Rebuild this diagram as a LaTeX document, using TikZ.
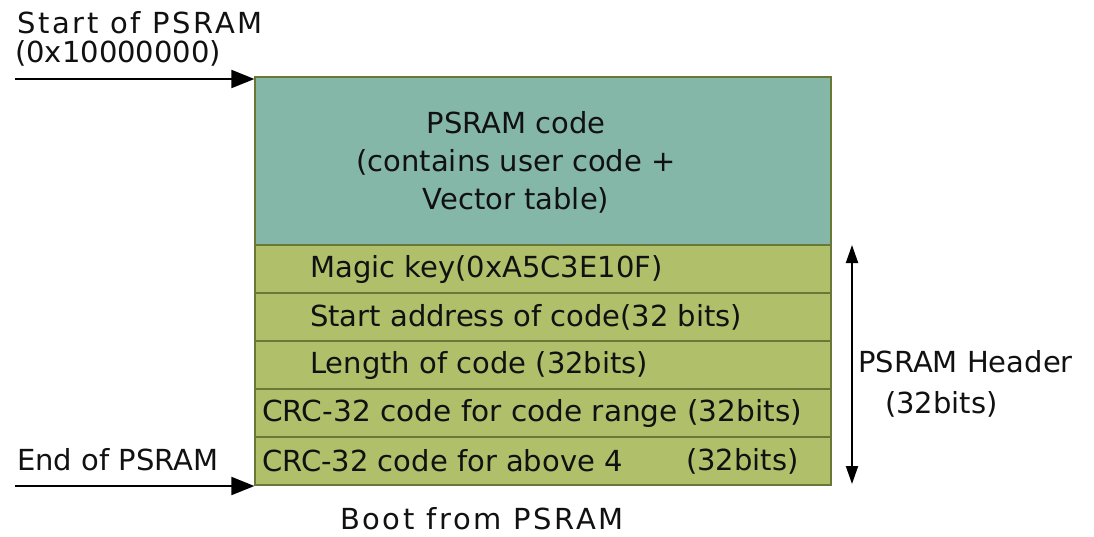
\documentclass[tikz,border=0pt]{standalone}
\usepackage{fontspec}
\setmainfont{DejaVu Sans}
\newfontfamily\spacedfont{DejaVu Sans}[LetterSpace=9]
\usetikzlibrary{arrows.meta}
\definecolor{tealfill}{RGB}{132,183,167}
\definecolor{olivefill}{RGB}{175,191,106}
\definecolor{boxline}{RGB}{105,120,55}
\definecolor{ink}{RGB}{17,17,17}
\begin{document}
\begin{tikzpicture}[x=1pt,y=-1pt,
  font=\fontsize{29}{38}\selectfont, text=ink,
  codebox/.style={draw=boxline, fill=tealfill, line width=1.2pt, minimum width=576pt, minimum height=168pt, inner sep=0pt},
  rowbox/.style={draw=boxline, fill=olivefill, line width=1.2pt, minimum width=576pt, minimum height=48pt, inner sep=0pt},
  txt/.style={inner sep=0pt, anchor=west},
  spaced/.style={font=\spacedfont\fontsize{29}{38}\selectfont},
  conn/.style={draw=black, line width=2pt, -{Triangle[length=23pt,width=18pt]}},
  span/.style={draw=black, line width=2pt, {Triangle[length=18pt,width=12pt]}-{Triangle[length=18pt,width=12pt]}}
]
\useasboundingbox (0,0) rectangle (1094,536);

% memory blocks
\node[codebox] (code) at (543,161) {};
\node[rowbox] (r1) at (543,269) {};
\node[rowbox] (r2) at (543,317) {};
\node[rowbox] (r3) at (543,365) {};
\node[rowbox] (r4) at (543,413) {};
\node[rowbox] (r5) at (543,461) {};

% block texts
\node[inner sep=0pt, align=center] (codetxt) at (516,162) {PSRAM code\\(contains user code +\\Vector table)};
\node[txt] (t1) at (310,269) {Magic key(0xA5C3E10F)};
\node[txt] (t2) at (310,317) {Start address of code(32 bits)};
\node[txt] (t3) at (310,365) {Length of code (32bits)};
\node[txt] (t4) at (262,413) {\scalebox{1.02}[1]{CRC-32 code for code range (32bits)}};
\node[txt] (t5) at (262,461) {CRC-32 code for above 4};
\node[txt] (t5b) at (686,461) {(32bits)};

% left labels and arrows
\node[txt, spaced] (startlbl) at (17,23) {Start of PSRAM};
\node[txt] (startaddr) at (15,53) {(0x10000000)};
\node[txt] (endlbl) at (17,460) {End of PSRAM};
\coordinate (sfrom) at (15,79);
\coordinate (efrom) at (15,486);
\draw[conn] (sfrom) -- (sfrom -| code.west);
\draw[conn] (efrom) -- (efrom -| r5.west);

% header span
\coordinate (htop) at (852,245);
\coordinate (hbot) at (852,484);
\draw[span] (htop) -- (hbot);
\node[txt] (hdr) at (858,362) {PSRAM Header};
\node[txt] (hdrbits) at (885,404) {(32bits)};

% caption
\node[inner sep=0pt, spaced] (caption) at (482,519) {Boot from PSRAM};
\end{tikzpicture}
\end{document}
